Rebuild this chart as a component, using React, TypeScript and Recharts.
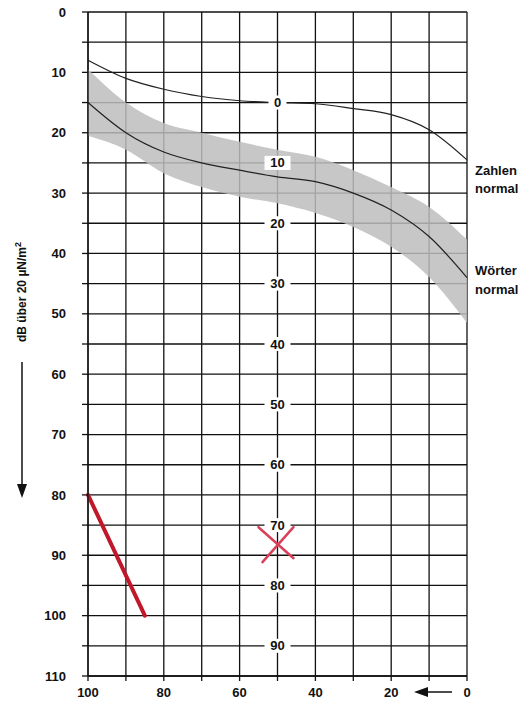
import React from "react";
import {
  ComposedChart,
  Area,
  Line,
  Scatter,
  XAxis,
  YAxis,
  CartesianGrid,
} from "recharts";

// Verständlichkeit in % (x, reversed) vs. Pegel in dB (y, reversed)
const gridX = [100, 90, 80, 70, 60, 50, 40, 30, 20, 10, 0];
const bandUpper = [9.5, 15, 18.4, 20, 21.5, 22.8, 24, 26.2, 29, 32.3, 37.7];
const bandLower = [20.5, 22.8, 26.7, 29, 30.6, 31.7, 33.3, 35.6, 38.9, 43.9, 51.5];
const zahlenNormal = [8, 11, 12.8, 14, 14.7, 15, 15.2, 16, 17, 19.5, 24.5];
const woerterNormal = [15, 20, 23.2, 25, 26.2, 27.3, 28.1, 30, 32.8, 37.2, 44];

const redLineX = [100, 85];
const redLineY = [80, 100];
const crossX = [50];
const crossY = [88];

// second (inner) scale drawn along the 50 % line
const midScaleY = [15, 25, 35, 45, 55, 65, 75, 85, 95, 105];
const midScaleLabels = ["0", "10", "20", "30", "40", "50", "60", "70", "80", "90"];
const midScaleX = 50;

const yTicks = Array.from({ length: 23 }, (_, i) => i * 5);
const xTicks = [100, 90, 80, 70, 60, 50, 40, 30, 20, 10, 0];

const rows = gridX.map((x, i) => ({
  x,
  band: [bandUpper[i], bandLower[i]],
  zahlen: zahlenNormal[i],
  woerter: woerterNormal[i],
}));
const redLine = redLineX.map((x, i) => ({ x, y: redLineY[i] }));
const cross = crossX.map((x, i) => ({ x, y: crossY[i] }));
const midScale = midScaleY.map((y, i) => ({ x: midScaleX, y, label: midScaleLabels[i] }));

const FONT = "'Liberation Sans', Arial, sans-serif";

const ScaleLabel = (props: any) => {
  const { cx, cy, payload } = props;
  const w = payload.label.length * 8 + 10;
  return (
    <g>
      <rect x={cx - w / 2} y={cy - 7} width={w} height={14} fill="#fff" />
      <text
        x={cx}
        y={cy}
        textAnchor="middle"
        dominantBaseline="central"
        fontFamily={FONT}
        fontWeight={600}
        fontSize={13}
        fill="#111"
      >
        {payload.label}
      </text>
    </g>
  );
};

const CrossMark = (props: any) => {
  const { cx, cy } = props;
  return (
    <g stroke="#d8405a" strokeWidth={2.5} strokeLinecap="round">
      <line x1={cx - 19} y1={cy - 16} x2={cx + 16} y2={cy + 15} />
      <line x1={cx - 15} y1={cy + 19} x2={cx + 16} y2={cy - 16} />
    </g>
  );
};

export default function App() {
  return (
    <div style={{ position: "absolute", left: 0, top: 0, width: 531, height: 703, background: "#fff" }}>
      <ComposedChart
        width={531}
        height={703}
        data={rows}
        margin={{ top: 12, right: 64, bottom: 7, left: 28 }}
      >
        <CartesianGrid stroke="#111" strokeWidth={1.3} />
        <XAxis
          dataKey="x"
          type="number"
          domain={[0, 100]}
          reversed
          ticks={xTicks}
          interval={0}
          height={20}
          tickSize={5}
          tickMargin={7}
          tickFormatter={(v: number) => (v % 20 === 0 ? String(v) : "")}
          axisLine={{ stroke: "#111", strokeWidth: 1.3 }}
          tickLine={{ stroke: "#111", strokeWidth: 1.3 }}
          tick={{ fontFamily: FONT, fontWeight: 600, fontSize: 13, fill: "#111" }}
        />
        <YAxis
          type="number"
          domain={[0, 110]}
          reversed
          ticks={yTicks}
          interval={0}
          width={60}
          tickSize={6}
          tickMargin={16}
          tickFormatter={(v: number) => (v % 10 === 0 ? String(v) : "")}
          axisLine={{ stroke: "#111", strokeWidth: 1.3 }}
          tickLine={{ stroke: "#111", strokeWidth: 1.3 }}
          tick={{ fontFamily: FONT, fontWeight: 600, fontSize: 13, fill: "#111" }}
        />
        <Area
          dataKey="band"
          type="monotone"
          stroke="none"
          fill="#bdbdbd"
          fillOpacity={0.85}
          isAnimationActive={false}
        />
        <Line dataKey="zahlen" type="monotone" stroke="#222" strokeWidth={1.2} dot={false} isAnimationActive={false} />
        <Line dataKey="woerter" type="monotone" stroke="#222" strokeWidth={1.2} dot={false} isAnimationActive={false} />
        <Scatter data={midScale} dataKey="y" shape={ScaleLabel} isAnimationActive={false} />
        <Scatter data={cross} dataKey="y" shape={CrossMark} isAnimationActive={false} />
        <Line
          data={redLine}
          dataKey="y"
          type="linear"
          stroke="#c0182a"
          strokeWidth={4}
          strokeLinecap="round"
          dot={false}
          isAnimationActive={false}
        />
      </ComposedChart>
      <svg
        width={531}
        height={703}
        style={{ position: "absolute", left: 0, top: 0, pointerEvents: "none" }}
      >
        <text
          transform="translate(26,292) rotate(-90)"
          textAnchor="middle"
          fontFamily={FONT}
          fontWeight={600}
          fontSize={12}
          fill="#111"
        >
          dB über 20 µN/m
          <tspan dy={-5} fontSize={9}>2</tspan>
        </text>
        <line x1={22} y1={362} x2={22} y2={486} stroke="#111" strokeWidth={1.5} />
        <path d="M17,484 L27,484 L22,498 Z" fill="#111" />
        <line x1={422} y1={692} x2={452} y2={692} stroke="#111" strokeWidth={1.5} />
        <path d="M414,692 L428,687 L428,697 Z" fill="#111" />
        <g fontFamily={FONT} fontWeight={600} fontSize={13} fill="#111">
          <text x={475} y={175}>Zahlen</text>
          <text x={475} y={193}>normal</text>
          <text x={475} y={275}>Wörter</text>
          <text x={475} y={294}>normal</text>
        </g>
      </svg>
    </div>
  );
}
